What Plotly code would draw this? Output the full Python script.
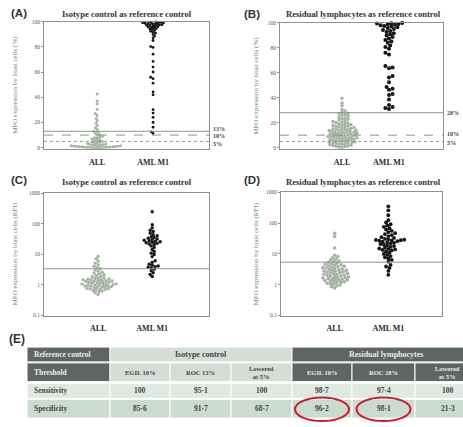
import math
import plotly.graph_objects as go

W, H = 463, 427

# ---------------- data ----------------
categories = ["ALL", "AML M1"]

# MPO-positive blasts (%), isotype control as reference
iso_pct_all = [0.0, 0.0, 0.1, 0.1, 0.2, 0.3, 0.3, 0.4, 0.5, 0.5, 0.6, 0.7, 0.8, 0.9,
               1.0, 1.1, 1.2, 1.3, 1.5, 1.6, 1.8, 1.9, 2.1, 2.3, 2.5, 2.8, 3.0, 3.3,
               3.6, 3.9, 4.3, 4.7, 5.1, 5.5, 6.0, 6.4, 6.9, 7.4, 7.9, 8.5, 9.1, 9.8,
               10.5, 11.3, 12.2, 13.0, 14.4, 15.8, 17.5, 19.3, 21.4, 23.2, 25.6, 27.1,
               30.4, 34.8, 37.0, 42.6]
iso_pct_aml = [99.8, 99.6, 99.5, 99.3, 99.1, 99.0, 98.8, 98.6, 98.4, 98.2, 98.0, 97.7,
               97.5, 97.2, 97.0, 96.7, 96.4, 96.1, 95.8, 95.4, 95.0, 94.6, 94.2, 93.7,
               93.1, 92.4, 91.6, 90.9, 89.8, 88.6, 87.2, 85.1, 80.3, 79.6, 74.2,
               68.5, 64.0, 60.1, 55.9, 54.8, 51.2, 44.3, 42.0, 30.2, 27.5, 24.1, 20.0,
               16.2, 12.5, 11.3]

# MPO-positive blasts (%), residual lymphocytes as reference
res_pct_all = [0.3, 0.5, 0.8, 1.1, 1.4, 1.7, 2.0, 2.3, 2.6, 2.9, 3.2, 3.4, 3.7, 3.9,
               4.1, 4.4, 4.6, 4.9, 5.1, 5.4, 5.6, 5.9, 6.1, 6.3, 6.5, 6.8, 7.0, 7.2,
               7.5, 7.7, 7.9, 8.2, 8.4, 8.6, 8.8, 9.0, 9.2, 9.4, 9.6, 9.9, 10.1, 10.3,
               10.6, 10.8, 11.0, 11.3, 11.5, 11.7, 12.0, 12.2, 12.3, 12.6, 12.9, 13.1,
               13.4, 13.7, 13.9, 14.2, 14.5, 14.7, 15.0, 15.2, 15.4, 15.8, 16.1, 16.5,
               16.9, 17.2, 17.6, 17.9, 18.2, 18.4, 18.9, 19.3, 19.8, 20.2, 20.6, 21.0,
               21.6, 22.1, 22.7, 23.2, 23.8, 24.3, 25.2, 25.9, 26.6, 27.1, 27.6, 28.4,
               29.5, 30.6, 33.5, 35.8, 39.6]
res_pct_aml = [99.8, 99.6, 99.3, 99.0, 98.7, 98.3, 97.9, 97.4, 96.9, 96.3, 95.7, 95.0,
               94.2, 93.4, 92.5, 91.6, 90.7, 89.7, 88.6, 87.4, 86.2, 85.0, 84.0, 81.8,
               80.5, 79.2, 76.0, 74.5, 65.3, 64.2, 63.6, 57.4, 56.1, 52.3, 48.5, 47.2,
               46.4, 43.0, 42.1, 38.5, 34.2, 32.6, 31.8, 30.9]

# MPO relative fluorescence intensity, isotype control as reference
iso_rfi_all = [0.49, 0.56, 0.60, 0.63, 0.66, 0.68, 0.71, 0.73, 0.75, 0.77, 0.78, 0.80,
               0.83, 0.85, 0.87, 0.90, 0.92, 0.93, 0.95, 0.97, 0.99, 1.00, 1.02, 1.04,
               1.07, 1.09, 1.11, 1.14, 1.16, 1.19, 1.22, 1.25, 1.28, 1.31, 1.33, 1.35,
               1.38, 1.42, 1.45, 1.47, 1.52, 1.55, 1.58, 1.63, 1.70, 1.77, 1.85, 1.93,
               2.04, 2.16, 2.31, 2.45, 2.62, 2.85, 3.10, 3.40, 3.70, 4.10, 4.60, 5.20,
               6.10, 7.30, 8.60]
iso_rfi_aml = [250, 93, 74, 62, 56, 49, 44, 41, 38, 36, 34, 32, 31, 29, 28, 27, 26,
               25, 24, 23, 22, 21, 19, 17, 14.5, 12.5, 11, 10, 8.5, 6.2, 5.5, 4.8, 4.4,
               4.2, 4.0, 3.8, 3.6, 3.3, 2.9, 2.5, 2.2, 1.9]

# MPO relative fluorescence intensity, residual lymphocytes as reference
res_rfi_all = [0.78, 0.86, 0.91, 0.98, 1.03, 1.07, 1.12, 1.17, 1.20, 1.25, 1.28, 1.33,
               1.36, 1.41, 1.44, 1.49, 1.52, 1.57, 1.60, 1.66, 1.69, 1.75, 1.81, 1.84,
               1.91, 1.95, 2.03, 2.07, 2.15, 2.19, 2.28, 2.33, 2.42, 2.47, 2.57, 2.63,
               2.73, 2.79, 2.90, 2.97, 3.08, 3.15, 3.28, 3.37, 3.50, 3.58, 3.73, 3.84,
               3.99, 4.13, 4.26, 4.44, 4.62, 4.78, 5.02, 5.28, 5.63, 5.92, 6.35, 6.80,
               7.45, 8.20, 9.00, 15.5, 37.0, 47.0]
res_rfi_aml = [350, 260, 180, 125, 105, 92, 84, 76, 68, 62, 56, 51, 47, 44, 41, 38, 35,
               33, 31, 30, 29, 28.5, 28, 27.5, 27, 26, 25, 24, 23, 22, 21, 20, 19, 18,
               17, 16, 15, 14.5, 14, 13.5, 13, 12, 11, 10, 9.3, 8.5, 7.8, 7.1, 6.4, 5.6,
               4.4, 3.9, 3.5, 2.8, 2.1]

# table (E)
table_groups = ["Isotype control", "Residual lymphocytes"]
table_thresholds = ["EGIL 10%", "ROC 13%", "Lowered<br>at 5%",
                    "EGIL 10%", "ROC 28%", "Lowered<br>at 5%"]
sensitivity = [100, 95.1, 100, 98.7, 97.4, 100]
specificity = [85.6, 91.7, 68.7, 96.2, 98.1, 21.3]

# ---------------- styling ----------------
SERIF = "Liberation Serif"
SANS = "Liberation Sans"
ALL_COLOR = "#a5b4a2"
AML_COLOR = "#151515"
AX_COLOR = "#8c918d"
LINE_COLOR = "#8f948f"


def px_x(p):
    return p / W


def px_y(p):
    return 1 - p / H


def note(x, y, text, size, color, family=SERIF, xanchor="center", angle=0):
    fig.add_annotation(xref="paper", yref="paper", x=px_x(x), y=px_y(y), text=text,
                       showarrow=False, xanchor=xanchor, yanchor="middle",
                       textangle=angle, font=dict(family=family, size=size, color=color))


def swarm(values, y_of, diam, px_per_unit):
    """Greedy beeswarm: horizontal offsets (in axis units) that keep markers apart."""
    ys = [y_of(v) for v in values]
    order = sorted(range(len(values)), key=lambda i: ys[i])
    placed = []
    offs = [0.0] * len(values)
    step = diam / 3.0
    for n, i in enumerate(order):
        y = ys[i]
        near = [(px, py) for px, py in placed if abs(py - y) < diam]
        k = 0
        chosen = None
        while chosen is None:
            signs = (1,) if k == 0 else ((1, -1) if n % 2 == 0 else (-1, 1))
            for s in signs:
                x = s * k * step
                if all((x - px) ** 2 + (y - py) ** 2 >= (0.92 * diam) ** 2 for px, py in near):
                    chosen = x
                    break
            k += 1
        placed.append((chosen, y))
        offs[i] = chosen / px_per_unit
    return offs


panels = [
    dict(ax="", all=iso_pct_all, aml=iso_pct_aml, xd=(44, 209), yd=(19, 148),
         xr=(0.05, 3.0), log=False, d_all=2.6, d_aml=2.4),
    dict(ax="2", all=res_pct_all, aml=res_pct_aml, xd=(280, 443), yd=(20, 148),
         xr=(-0.32, 3.15), log=False, d_all=3.0, d_aml=3.6),
    dict(ax="3", all=iso_rfi_all, aml=iso_rfi_aml, xd=(44, 209), yd=(193, 317),
         xr=(0.0, 3.05), log=True, d_all=3.0, d_aml=3.0),
    dict(ax="4", all=res_rfi_all, aml=res_rfi_aml, xd=(281, 442), yd=(192, 317),
         xr=(0.0, 3.0), log=True, d_all=3.2, d_aml=3.4),
]

fig = go.Figure()
layout = {}

for p in panels:
    x0, x1 = p["xd"]
    y0, y1 = p["yd"]
    xppu = (x1 - x0) / (p["xr"][1] - p["xr"][0])
    if p["log"]:
        yppu = (y1 - y0) / 4.0
        y_of = lambda v, s=yppu: math.log10(v) * s
    else:
        yppu = (y1 - y0) / 101.0
        y_of = lambda v, s=yppu: v * s
    for cat_i, (vals, col, d) in enumerate([(p["all"], ALL_COLOR, p["d_all"]),
                                            (p["aml"], AML_COLOR, p["d_aml"])]):
        offs = swarm(vals, y_of, d, xppu)
        fig.add_trace(go.Scatter(
            x=[cat_i + 1 + o for o in offs], y=vals, mode="markers",
            marker=dict(size=d + 0.4, color=col, line=dict(width=0)),
            xaxis="x" + p["ax"], yaxis="y" + p["ax"], showlegend=False,
            cliponaxis=False, hoverinfo="y"))

    xa = dict(domain=[px_x(x0), px_x(x1)], range=list(p["xr"]), tickvals=[1, 2],
              ticktext=["<b>%s</b>" % c for c in categories],
              tickfont=dict(family=SERIF, size=8, color="#2a2a2a"),
              showgrid=False, zeroline=False, showline=True, mirror=True,
              linecolor=AX_COLOR, linewidth=1, ticks="", anchor="y" + p["ax"],
              ticklabelstandoff=5, fixedrange=True)
    if p["log"]:
        ya = dict(type="log", range=[-1, 3], tickvals=[0.1, 1, 10, 100, 1000],
                  ticktext=["0.1", "1", "10", "100", "1000"])
    else:
        ya = dict(range=[-1, 100], tickvals=[0, 20, 40, 60, 80, 100])
    ya.update(domain=[px_y(y1), px_y(y0)],
              tickfont=dict(family=SERIF, size=5.5, color="#555"),
              showgrid=False, zeroline=False, showline=True, mirror=True,
              linecolor=AX_COLOR, linewidth=1, ticks="outside", ticklen=2,
              tickcolor=AX_COLOR, anchor="x" + p["ax"], fixedrange=True)
    layout["xaxis" + p["ax"]] = xa
    layout["yaxis" + p["ax"]] = ya

fig.update_layout(**layout)

# threshold lines (label, and a small vertical nudge so stacked labels stay legible)
thresholds = [
    ("", [(13, "solid", "13%", 2), (10, "dash", "10%", -1), (5, "dot", "5%", -3)]),
    ("2", [(28, "solid", "28%", 0), (10, "dash", "10%", 1), (5, "dot", "5%", -2)]),
    ("3", [(3.4, "solid", "3.4", 0)]),
    ("4", [(5.4, "solid", "5.4", 0)]),
]
for ax, items in thresholds:
    for val, dash, lab, shift in items:
        fig.add_shape(type="line", xref="x%s domain" % ax, yref="y" + ax,
                      x0=0, x1=1, y0=val, y1=val,
                      line=dict(color=LINE_COLOR, width=1, dash=dash), layer="above")
        fig.add_annotation(xref="x%s domain" % ax, yref="y" + ax, x=1.012, y=val,
                           yshift=shift, text="<b>%s</b>" % lab, showarrow=False,
                           xanchor="left", yanchor="middle",
                           font=dict(family=SERIF, size=6, color="#444"))

# panel titles, letters, y-axis titles
titles = [
    ("(A)", "Isotype control as reference control", 127, 11, 19, 10, 15, 83,
     "MPO expression by blast cells (%)"),
    ("(B)", "Residual lymphocytes as reference control", 363, 11, 252, 11, 256, 84,
     "MPO expression by blast cells (%)"),
    ("(C)", "Isotype control as reference control", 127, 182, 19, 180, 15, 255,
     "MPO expression by blast cells (RFI)"),
    ("(D)", "Residual lymphocytes as reference control", 363, 182, 252, 180, 256, 255,
     "MPO expression by blast cells (RFI)"),
]
for letter, title, tx, ty, lx, ly, yx, yy, ytitle in titles:
    note(tx, ty, "<b>%s</b>" % title, 8.6, "#333")
    note(lx, ly, "<b>%s</b>" % letter, 11.5, "#333", family=SANS)
    note(yx, yy, ytitle, 7, "#6e8873", angle=-90)

note(17, 341, "<b>(E)</b>", 12, "#333", family=SANS)

# ---------------- table (E) ----------------
DARK = "#5d6663"
LIGHT_HEAD = "#d4ded6"
ROW_SENS = "#e0e9e1"
ROW_SPEC = "#ccdbd0"
TXT_DARK = "#3d4542"
TXT_LIGHT = "#e9eeea"

col_edges = [27, 110, 170, 231, 292, 352, 415, 480]
row_edges = [(349, 364), (365, 384), (386, 401), (402, 421)]


def cell(c0, c1, r, fill, text, tcolor, align="center", size=7.5):
    xa, xb = col_edges[c0], col_edges[c1]
    ya, yb = row_edges[r]
    fig.add_shape(type="rect", xref="paper", yref="paper",
                  x0=px_x(xa), x1=px_x(xb), y0=px_y(yb), y1=px_y(ya),
                  fillcolor=fill, line=dict(color="white", width=1), layer="below")
    if align == "left":
        note(xa + 5, (ya + yb) / 2, "<b>%s</b>" % text, size, tcolor, xanchor="left")
    else:
        note((xa + xb) / 2, (ya + yb) / 2, "<b>%s</b>" % text, size, tcolor)


def fmt(v):
    return str(int(v)) if v == int(v) else ("%.1f" % v).replace(".", "·")


cell(0, 1, 0, DARK, "Reference control", TXT_LIGHT, "left")
cell(1, 4, 0, LIGHT_HEAD, table_groups[0], TXT_DARK, size=8)
cell(4, 7, 0, DARK, table_groups[1], TXT_LIGHT, size=8)
cell(0, 1, 1, DARK, "Threshold", TXT_LIGHT, "left")
for j, th in enumerate(table_thresholds):
    dark = j >= 3
    cell(j + 1, j + 2, 1, DARK if dark else LIGHT_HEAD, th,
         TXT_LIGHT if dark else TXT_DARK, size=6.5)
cell(0, 1, 2, ROW_SENS, "Sensitivity", TXT_DARK, "left")
cell(0, 1, 3, ROW_SPEC, "Specificity", TXT_DARK, "left")
for j in range(6):
    cell(j + 1, j + 2, 2, ROW_SENS, fmt(sensitivity[j]), TXT_DARK)
    cell(j + 1, j + 2, 3, ROW_SPEC, fmt(specificity[j]), TXT_DARK)

# highlight the two best specificities of the residual-lymphocyte thresholds
for j in (3, 4):
    cx = (col_edges[j + 1] + col_edges[j + 2]) / 2
    fig.add_shape(type="circle", xref="paper", yref="paper",
                  x0=px_x(cx - 27), x1=px_x(cx + 27), y0=px_y(424), y1=px_y(400),
                  line=dict(color="#c8202a", width=2), layer="above")

fig.update_layout(width=W, height=H, autosize=False,
                  margin=dict(l=0, r=0, t=0, b=0),
                  paper_bgcolor="white", plot_bgcolor="white")

fig.write_html("out.html")
